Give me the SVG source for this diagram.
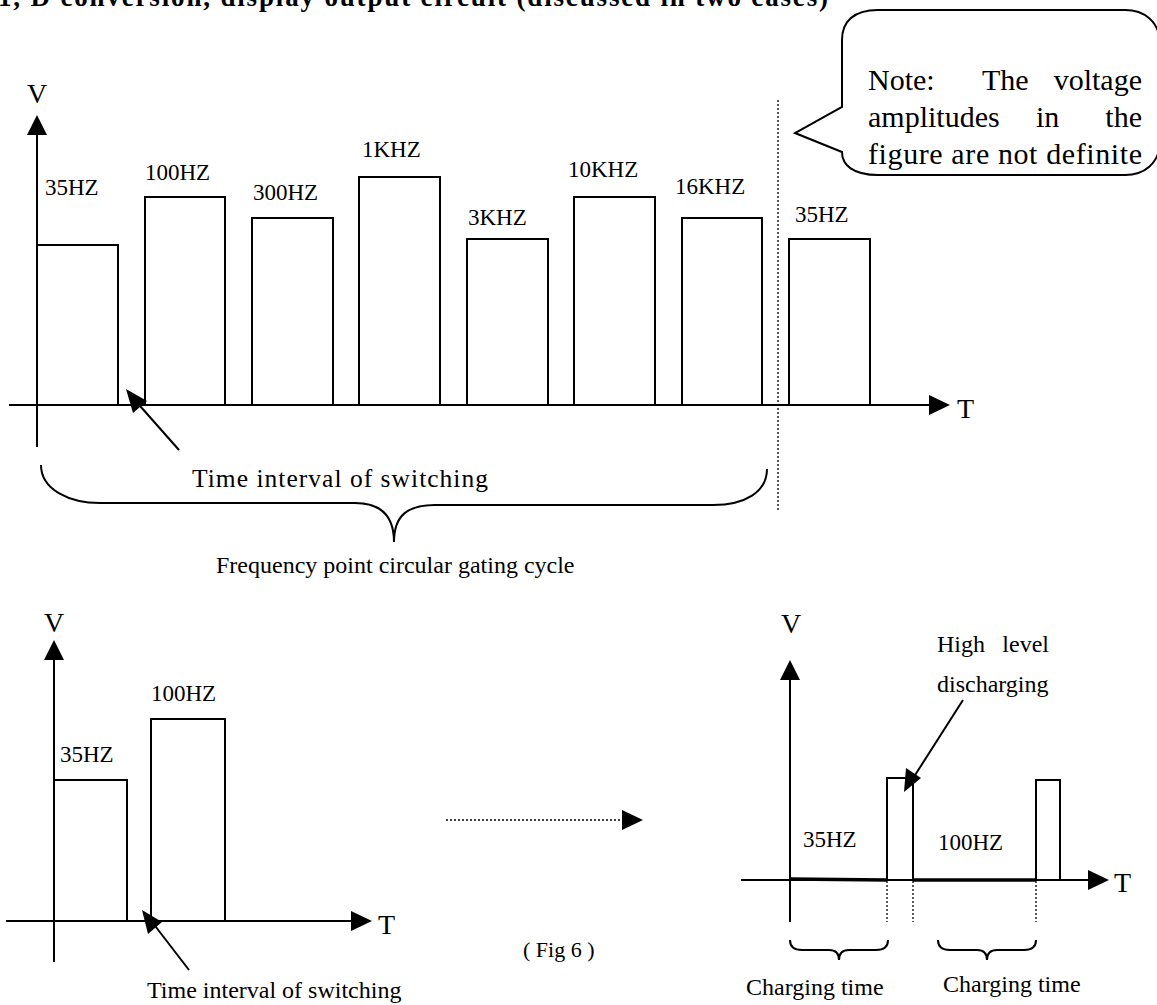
<svg xmlns="http://www.w3.org/2000/svg" width="1157" height="1005" viewBox="0 0 1157 1005">
<style>
text{font-family:"Liberation Serif","Times New Roman",serif;fill:#000}
.lbl{font-size:23px}
.ax{font-size:28px}
.txt{font-size:24px}
.note{font-size:30px}
.title{font-size:27px;font-weight:bold}
.bar{fill:none;stroke:#000;stroke-width:2}
.line{fill:none;stroke:#000;stroke-width:2}
.thick{fill:none;stroke:#000;stroke-width:3.5}
.dot{fill:none;stroke:#000;stroke-width:1.3;stroke-dasharray:2 2}
.head{fill:#000;stroke:none}
</style>
<rect width="1157" height="1005" fill="#fff"/>
<text class="title" x="-2" y="6" textLength="830" lengthAdjust="spacing">1, D conversion, display output circuit (discussed in two cases)</text>

<g id="callout">
<path d="M842,100 L842,40 C842,22 853,10 878,10 L1125,10 C1145,10 1158,22 1160,40 L1160,145 C1158,163 1145,175 1125,175 L878,175 C853,175 842,165 842,152 L795,133 L842,107 Z" fill="#fff" stroke="#000" stroke-width="2"/>
<text class="note" x="868" y="90">Note:</text>
<text class="note" x="982" y="90">The</text>
<text class="note" x="1142" y="90" text-anchor="end">voltage</text>
<text class="note" x="868" y="127">amplitudes</text>
<text class="note" x="1036" y="127">in</text>
<text class="note" x="1142" y="127" text-anchor="end">the</text>
<text class="note" x="868" y="164" textLength="274" lengthAdjust="spacing">figure are not definite</text>
</g>

<g id="top-chart">
<g id="top-axes">
<line class="line" x1="37" y1="130" x2="37" y2="447"/>
<path class="head" d="M37,115 L27,135 L47,135 Z"/>
<line class="line" x1="9" y1="405" x2="932" y2="405"/>
<path class="head" d="M950,405 L929,395 L929,415 Z"/>
<text class="ax" x="27" y="103">V</text>
<text class="ax" x="957" y="418">T</text>
</g>
<g id="bar-35hz"><path class="bar" d="M37,405 V245 H118 V405"/><text class="lbl" x="45" y="195">35HZ</text></g>
<g id="bar-100hz"><path class="bar" d="M145,405 V197 H225 V405"/><text class="lbl" x="145" y="180">100HZ</text></g>
<g id="bar-300hz"><path class="bar" d="M252,405 V218 H333 V405"/><text class="lbl" x="253" y="200">300HZ</text></g>
<g id="bar-1khz"><path class="bar" d="M359,405 V177 H440 V405"/><text class="lbl" x="362" y="157">1KHZ</text></g>
<g id="bar-3khz"><path class="bar" d="M467,405 V239 H548 V405"/><text class="lbl" x="468" y="225">3KHZ</text></g>
<g id="bar-10khz"><path class="bar" d="M574,405 V197 H655 V405"/><text class="lbl" x="568" y="177">10KHZ</text></g>
<g id="bar-16khz"><path class="bar" d="M682,405 V218 H762 V405"/><text class="lbl" x="675" y="194">16KHZ</text></g>
<g id="bar-35hz-b"><path class="bar" d="M789,405 V239 H870 V405"/><text class="lbl" x="795" y="222">35HZ</text></g>
<line class="dot" x1="778" y1="100" x2="778" y2="510"/>
<g id="cycle-brace">
<path class="line" d="M41,465 C41,490 70,503 100,503 L355,503 C380,503 394,515 394,542 C394,515 408,505 435,505 L713,505 C745,505 767,492 767,469"/>
<text class="txt" x="192" y="487" style="font-size:25.5px" textLength="296" lengthAdjust="spacing">Time interval of switching</text>
<text class="txt" x="216" y="573">Frequency point circular gating cycle</text>
</g>
</g>

<g id="bottom-left-chart">
<line class="line" x1="54" y1="655" x2="54" y2="962"/>
<path class="head" d="M54,640 L44,660 L64,660 Z"/>
<line class="line" x1="6" y1="921" x2="354" y2="921"/>
<path class="head" d="M372,921 L351,911 L351,931 Z"/>
<text class="ax" x="44" y="632">V</text>
<text class="ax" x="378" y="934">T</text>
<g id="bl-35hz"><path class="bar" d="M54,921 V780 H127 V921"/><text class="lbl" x="60" y="762">35HZ</text></g>
<g id="bl-100hz"><path class="bar" d="M151,921 V719 H225 V921"/><text class="lbl" x="151" y="701">100HZ</text></g>
<text class="txt" x="147" y="998">Time interval of switching</text>
</g>

<text class="txt" x="523" y="957" style="font-size:22px">( Fig 6 )</text>

<g id="bottom-right-chart">
<line class="line" x1="790" y1="675" x2="790" y2="922"/>
<path class="head" d="M790,660 L780,680 L800,680 Z"/>
<line class="line" x1="741" y1="880" x2="1091" y2="880"/>
<path class="head" d="M1109,880 L1088,870 L1088,890 Z"/>
<text class="ax" x="781" y="633">V</text>
<text class="ax" x="1114" y="892">T</text>
<path class="thick" d="M790,879 L887,880"/>
<path class="thick" d="M913,880 L1036,880"/>
<g id="br-pulse-1"><path class="bar" d="M887,880 V778 H913 V880"/></g>
<g id="br-pulse-2"><path class="bar" d="M1036,880 V780 H1060 V880"/></g>
<line class="dot" x1="887" y1="881" x2="887" y2="922"/>
<line class="dot" x1="913" y1="881" x2="913" y2="922"/>
<line class="dot" x1="1036" y1="881" x2="1036" y2="922"/>
<text class="lbl" x="803" y="847">35HZ</text>
<text class="lbl" x="938" y="850">100HZ</text>
<text class="txt" x="937" y="652">High</text>
<text class="txt" x="1049" y="652" text-anchor="end">level</text>
<text class="txt" x="937" y="692">discharging</text>
<g id="brace-1">
<path class="line" d="M790,940 C790,947 795,950 802,950 L829,950 C835,950 839,953 839,960 C839,953 843,950 849,950 L876,950 C883,950 888,947 888,940"/>
<text class="txt" x="746" y="995">Charging time</text>
</g>
<g id="brace-2">
<path class="line" d="M938,940 C938,947 943,950 950,950 L977,950 C983,950 987,953 987,960 C987,953 991,950 997,950 L1024,950 C1031,950 1036,947 1036,940"/>
<text class="txt" x="943" y="992">Charging time</text>
</g>
</g>

<g id="connectors">
<line class="line" x1="179" y1="450" x2="133" y2="398"/>
<path class="head" d="M126,389 L147,401 L133,413 Z"/>
<line class="line" x1="189" y1="970" x2="149" y2="918"/>
<path class="head" d="M142,910 L162,922 L148,934 Z"/>
<line class="line" x1="963" y1="700" x2="910" y2="783"/>
<path class="head" d="M904,792 L906,768 L921,778 Z"/>
<line class="dot" x1="446" y1="820" x2="624" y2="820"/>
<path class="head" d="M643,820 L622,810 L622,830 Z"/>
</g>
</svg>
